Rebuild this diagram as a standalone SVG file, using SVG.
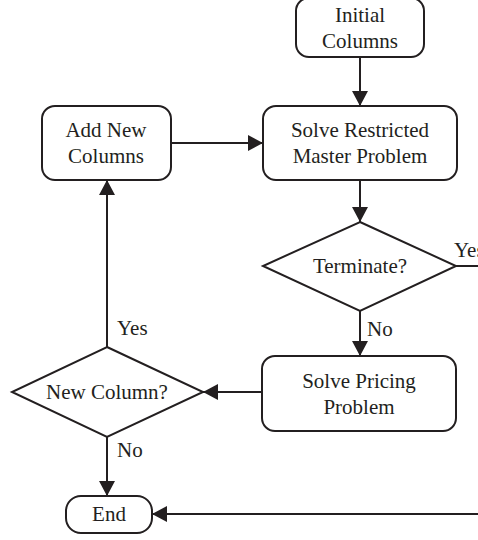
<svg xmlns="http://www.w3.org/2000/svg" width="478" height="540" viewBox="0 0 478 540">
<defs>
<style>
.box{fill:#fff;stroke:#231f20;stroke-width:2}
.ln{fill:none;stroke:#231f20;stroke-width:2}
.t{font-family:'Liberation Serif','DejaVu Serif',serif;font-size:21px;fill:#231f20}
.c{text-anchor:middle}
</style>
<marker id="ah" markerWidth="15" markerHeight="16" refX="15" refY="8" orient="auto" markerUnits="userSpaceOnUse">
<path d="M0,0 L15,8 L0,16 Z" fill="#231f20"/>
</marker>
</defs>
<rect width="478" height="540" fill="#fff"/>
<g id="connectors">
<line class="ln" x1="360" y1="57" x2="360" y2="106" marker-end="url(#ah)"/>
<line class="ln" x1="171" y1="143" x2="263" y2="143" marker-end="url(#ah)"/>
<line class="ln" x1="360" y1="180" x2="360" y2="222" marker-end="url(#ah)"/>
<line class="ln" x1="456" y1="266" x2="478" y2="266"/>
<line class="ln" x1="360" y1="311" x2="360" y2="356" marker-end="url(#ah)"/>
<line class="ln" x1="262" y1="392" x2="203" y2="392" marker-end="url(#ah)"/>
<line class="ln" x1="107" y1="347" x2="107" y2="180" marker-end="url(#ah)"/>
<line class="ln" x1="107" y1="437" x2="107" y2="496" marker-end="url(#ah)"/>
<line class="ln" x1="478" y1="514" x2="152" y2="514" marker-end="url(#ah)"/>
<text class="t" font-family="Liberation Serif, serif" x="454" y="257">Yes</text>
<text class="t" font-family="Liberation Serif, serif" x="367" y="336">No</text>
<text class="t" font-family="Liberation Serif, serif" x="117" y="335">Yes</text>
<text class="t" font-family="Liberation Serif, serif" x="117" y="457">No</text>
</g>
<g id="initial">
<rect class="box" x="296" y="-2" width="128" height="59" rx="13"/>
<text class="t c" x="360" y="22">Initial</text>
<text class="t c" x="360" y="48">Columns</text>
</g>
<g id="rmp">
<rect class="box" x="263" y="106" width="194" height="74" rx="13"/>
<text class="t c" x="360" y="137">Solve Restricted</text>
<text class="t c" x="360" y="163">Master Problem</text>
</g>
<g id="addcols">
<rect class="box" x="42" y="106" width="129" height="74" rx="13"/>
<text class="t c" x="106" y="137">Add New</text>
<text class="t c" x="106" y="163">Columns</text>
</g>
<g id="terminate">
<polygon class="box" points="360,222 456,266 360,311 263,266"/>
<text class="t c" x="360" y="273">Terminate?</text>
</g>
<g id="pricing">
<rect class="box" x="262" y="356" width="194" height="75" rx="13"/>
<text class="t c" x="359" y="388">Solve Pricing</text>
<text class="t c" x="359" y="414">Problem</text>
</g>
<g id="newcol">
<polygon class="box" points="107,347 203,392 107,437 12,392"/>
<text class="t c" x="107" y="399">New Column?</text>
</g>
<g id="end">
<rect class="box" x="66" y="496" width="86" height="37" rx="15"/>
<text class="t c" x="109" y="521">End</text>
</g>
</svg>
